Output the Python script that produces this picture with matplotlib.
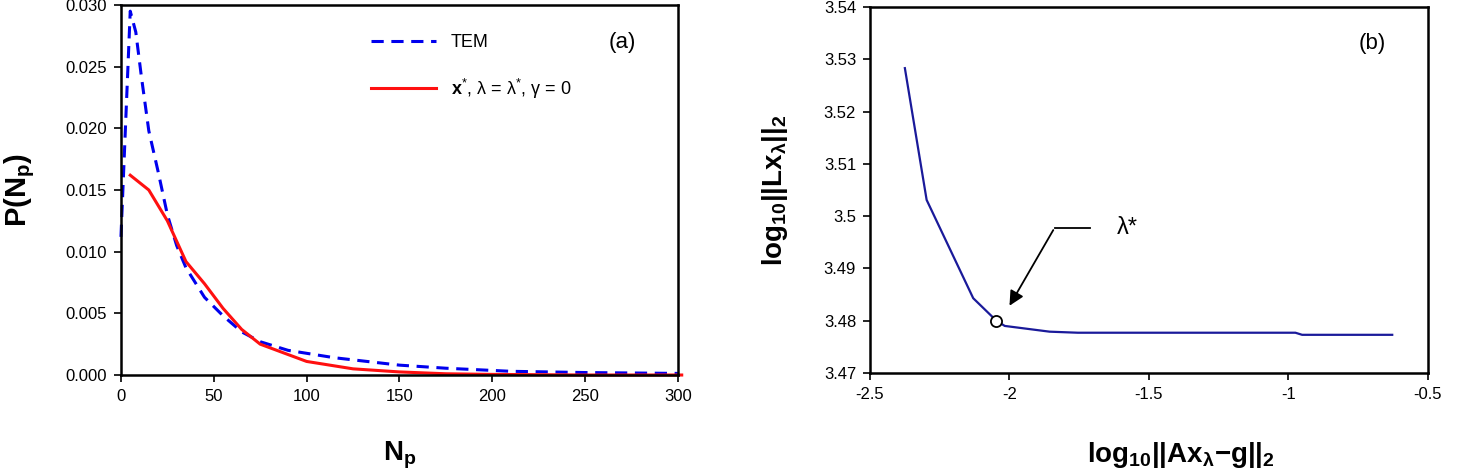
import numpy as np
import matplotlib
matplotlib.use("Agg")
import matplotlib.pyplot as plt

plt.rcParams['font.family'] = ['Liberation Sans', 'DejaVu Sans']
plt.rcParams['mathtext.fontset'] = 'custom'
plt.rcParams['mathtext.rm'] = 'Liberation Sans'
plt.rcParams['mathtext.it'] = 'Liberation Sans:italic'
plt.rcParams['mathtext.bf'] = 'Liberation Sans:bold'

# panel (a): size distributions
np_tem = [0, 5, 8, 11, 15, 20, 25, 30, 35, 45, 55, 65, 75, 90, 115, 150, 175, 210, 250, 300]
p_tem = [0.0112, 0.0295, 0.0278, 0.0242, 0.0198, 0.0165, 0.0130, 0.0105, 0.0087, 0.0063,
         0.0048, 0.0035, 0.0027, 0.0020, 0.0014, 0.0008, 0.00055, 0.0003, 0.0002, 0.00013]

np_rec = [5, 15, 25, 35, 45, 55, 65, 75, 100, 125, 150, 175, 200, 250, 302]
p_rec = [0.0162, 0.0150, 0.0125, 0.0092, 0.0074, 0.0054, 0.0037, 0.0025, 0.0011,
         0.0005, 0.00025, 0.0001, 0.00005, 0.0, 0.0]

# panel (b): L-curve
res_norm = [-2.375, -2.297, -2.130, -2.047, -2.017, -1.856, -1.755, -0.975, -0.951, -0.628]
sol_norm = [3.5283, 3.5031, 3.4843, 3.4800, 3.4790, 3.4779, 3.4777, 3.4777, 3.4773, 3.4773]
corner_x, corner_y = -2.047, 3.4800

fig = plt.figure(figsize=(14.59, 4.71), dpi=100)
ax1 = fig.add_axes([0.0829, 0.2038, 0.3818, 0.7856])
ax2 = fig.add_axes([0.5963, 0.2081, 0.3824, 0.7771])

ax1.plot(np_tem, p_tem, color="#0000ee", linestyle=(0, (4, 2.5)), linewidth=2.2, label="TEM")
ax1.plot(np_rec, p_rec, color="#ff1010", linewidth=2.2,
         label=r"$\mathbf{x}^{*}$, λ = λ$^{*}$, γ = 0")
ax1.set_xlim(0, 300)
ax1.set_ylim(0, 0.030)
ax1.set_xticks([0, 50, 100, 150, 200, 250, 300])
ax1.set_yticks(np.arange(0, 0.0301, 0.005))
ax1.yaxis.set_major_formatter(matplotlib.ticker.FormatStrFormatter("%.3f"))
ax1.set_xlabel(r"$\mathbf{N_p}$", fontsize=20, va="center")
ax1.set_ylabel(r"$\mathbf{P(N_p)}$", fontsize=21, va="center")
ax1.xaxis.set_label_coords(0.5, -0.216)
ax1.yaxis.set_label_coords(-0.181, 0.5)
ax1.legend(loc="upper left", bbox_to_anchor=(0.42, 0.965), frameon=False, fontsize=13,
           handlelength=3.6, handletextpad=0.8, labelspacing=1.4)
ax1.text(0.9, 0.885, "(a)", transform=ax1.transAxes, fontsize=16, ha="center")
for ln in ax1.lines:
    ln.set_clip_on(False)

ax2.plot(res_norm, sol_norm, color="#1a1a9a", linewidth=1.6)
ax2.plot(corner_x, corner_y, "o", markerfacecolor="white", markeredgecolor="black",
         markersize=8, markeredgewidth=1.3)
ax2.plot([-1.838, -1.713], [3.4978, 3.4978], color="black", linewidth=1.3)
ax2.annotate("", xy=(-2.005, 3.4824), xytext=(-1.838, 3.4978),
             arrowprops=dict(arrowstyle="-|>", color="black", lw=1.3, mutation_scale=22))
ax2.text(-1.615, 3.4978, "λ*", fontsize=17, va="center")
ax2.set_xlim(-2.5, -0.5)
ax2.set_ylim(3.47, 3.54)
ax2.set_xticks([-2.5, -2, -1.5, -1, -0.5])
ax2.set_xticklabels(["-2.5", "-2", "-1.5", "-1", "-0.5"])
ax2.set_yticks([3.47, 3.48, 3.49, 3.50, 3.51, 3.52, 3.53, 3.54])
ax2.set_yticklabels(["3.47", "3.48", "3.49", "3.5", "3.51", "3.52", "3.53", "3.54"])
ax2.set_xlabel(r"$\mathbf{log_{10}||Ax_{\lambda}{-}g||_{2}}$", fontsize=20, va="center")
ax2.set_ylabel(r"$\mathbf{log_{10}||Lx_{\lambda}||_{2}}$", fontsize=20, va="center")
ax2.xaxis.set_label_coords(0.557, -0.224)
ax2.yaxis.set_label_coords(-0.170, 0.5)
ax2.text(0.9, 0.885, "(b)", transform=ax2.transAxes, fontsize=16, ha="center")

for ax in (ax1, ax2):
    for sp in ax.spines.values():
        sp.set_linewidth(1.8)
    ax.tick_params(direction="out", length=5, width=1.2, labelsize=12, pad=5)

fig.savefig("out.png", dpi=100)
